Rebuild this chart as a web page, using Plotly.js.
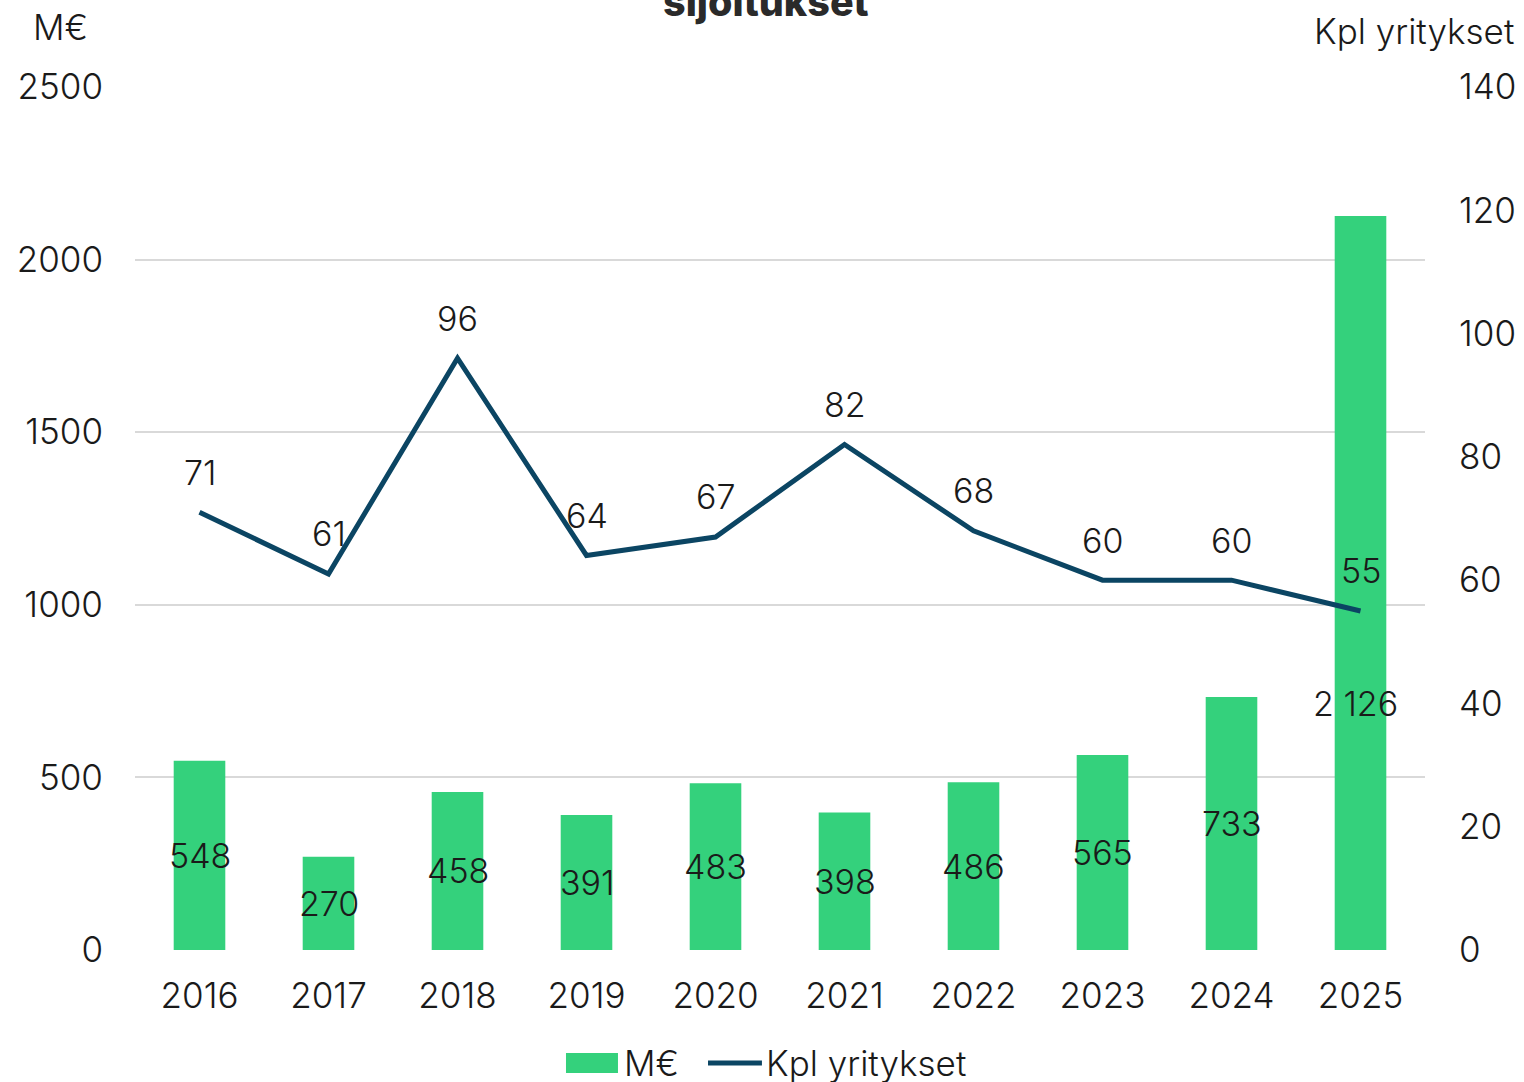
<!DOCTYPE html>
<html>
<head>
<meta charset="utf-8">
<script src="https://cdn.plot.ly/plotly-3.0.1.min.js"></script>
<style>html,body{margin:0;padding:0;background:#fff;}#chart{width:1524px;height:1082px;}</style>
</head>
<body>
<div id="chart"></div>
<script>
const years = ['2016','2017','2018','2019','2020','2021','2022','2023','2024','2025'];
const meur = [548, 270, 458, 391, 483, 398, 486, 565, 733, 2126];
const kpl = [71, 61, 96, 64, 67, 82, 68, 60, 60, 55];

const FONT = 'Inter, Lato, sans-serif';
const TXT = '#1a1a1a';
const GREEN = '#34D17C';
const NAVY = '#0B4563';
const fmt = v => String(v).replace(/\B(?=(\d{3})+(?!\d))/g, ' ');
const f = (size, extra) => Object.assign({family: FONT, size: size, color: TXT, weight: 300}, extra || {});

const bars = {
  type: 'bar', name: 'M€', x: years, y: meur,
  marker: {color: GREEN}, yaxis: 'y', showlegend: false
};
const line = {
  type: 'scatter', mode: 'lines', name: 'Kpl yritykset', x: years, y: kpl,
  line: {color: NAVY, width: 5}, yaxis: 'y2', showlegend: false
};

const annotations = [];
meur.forEach((v, i) => {
  const last = i === meur.length - 1;
  // the last bar's label sits lower, below the line's label, as in the original
  annotations.push({x: i, y: last ? v * 0.336 : v / 2, xref: 'x', yref: 'y', text: fmt(v),
    showarrow: false, font: f(34), xshift: last ? -5 : 0});
});
kpl.forEach((v, i) => {
  annotations.push({x: i, y: v, xref: 'x', yref: 'y2', text: String(v), showarrow: false,
    yshift: 40, font: f(34)});
});
annotations.push({xref: 'paper', yref: 'paper', x: -0.058, y: 1.07, xanchor: 'center', yanchor: 'middle',
  text: 'M€', showarrow: false, font: f(35)});
annotations.push({xref: 'paper', yref: 'paper', x: 1.0705, y: 1.065, xanchor: 'right', yanchor: 'middle',
  text: 'Kpl yritykset', showarrow: false, font: f(35)});
annotations.push({xref: 'paper', yref: 'paper', x: 0.489, y: 1.098, xanchor: 'center', yanchor: 'middle',
  text: 'sijoitukset', showarrow: false, font: {family: FONT, size: 39.5, color: '#2a2a2a', weight: 800}});

// custom legend (wide swatch + line), as in the original
const legendY = -0.1309;
annotations.push({xref: 'paper', yref: 'paper', x: 0.3775, y: legendY, xanchor: 'left', yanchor: 'middle',
  text: 'M€', showarrow: false, font: f(35)});
annotations.push({xref: 'paper', yref: 'paper', x: 0.4875, y: legendY, xanchor: 'left', yanchor: 'middle',
  text: 'Kpl yritykset', showarrow: false, font: f(35)});
const shapes = [
  {type: 'rect', xref: 'paper', yref: 'paper', x0: 0.3341, x1: 0.3744, y0: -0.1425, y1: -0.1194,
    fillcolor: GREEN, line: {width: 0}},
  {type: 'line', xref: 'paper', yref: 'paper', x0: 0.4442, x1: 0.4860, y0: legendY, y1: legendY,
    line: {color: NAVY, width: 5}}
];

const layout = {
  width: 1524, height: 1082,
  margin: {l: 135, r: 99, t: 87, b: 132},
  paper_bgcolor: '#ffffff', plot_bgcolor: '#ffffff',
  font: f(34),
  showlegend: false,
  bargap: 0.6,
  xaxis: {type: 'category', showgrid: false, zeroline: false, showline: false,
    ticks: 'outside', ticklen: 15, tickcolor: 'rgba(0,0,0,0)', tickfont: f(35)},
  yaxis: {range: [0, 2500], dtick: 500, showgrid: true, gridcolor: '#d9d9d9', gridwidth: 2,
    zeroline: false, showline: false, ticks: 'outside', ticklen: 24, tickcolor: 'rgba(0,0,0,0)',
    tickfont: f(35)},
  yaxis2: {range: [0, 140], dtick: 20, overlaying: 'y', side: 'right', showgrid: false,
    zeroline: false, showline: false, ticks: 'outside', ticklen: 26, tickcolor: 'rgba(0,0,0,0)',
    tickfont: f(35)},
  annotations: annotations,
  shapes: shapes
};

Plotly.newPlot('chart', [bars, line], layout, {displayModeBar: false, staticPlot: true});
</script>
</body>
</html>
